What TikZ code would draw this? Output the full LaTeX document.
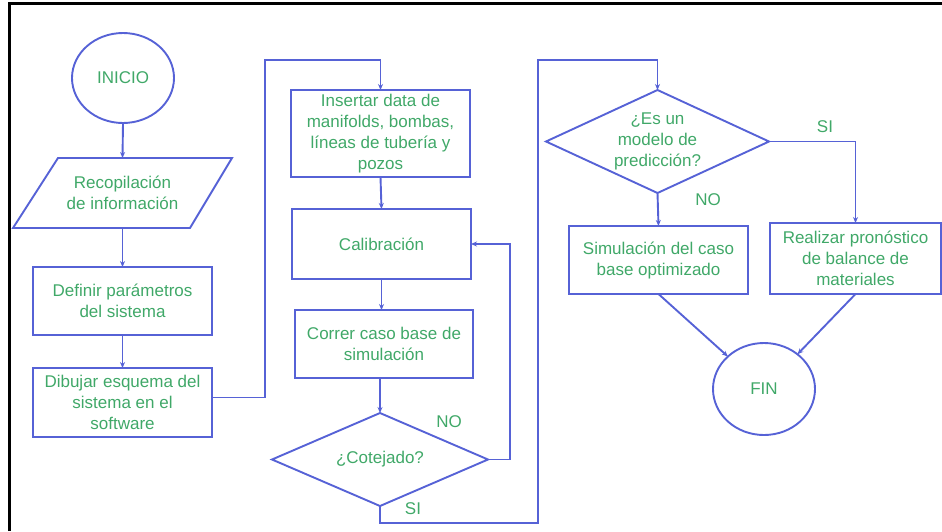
\documentclass[tikz,border=0pt]{standalone}
\usepackage{fontspec}
\setmainfont{Liberation Sans}
\usetikzlibrary{shapes.geometric,arrows.meta,calc}
\definecolor{lblue}{RGB}{86,98,214}
\definecolor{tgreen}{RGB}{64,168,104}
\begin{document}
\begin{tikzpicture}[x=1pt,y=-1pt,
  every node/.style={font=\fontsize{17}{21}\selectfont, text=tgreen, align=center, inner sep=0pt, outer sep=0pt},
  box/.style={draw=lblue, line width=1.9pt, rectangle},
  oval/.style={draw=lblue, line width=1.9pt, ellipse},
  conn/.style={draw=lblue, line width=1.9pt},
  arr/.style={conn, -{Stealth[length=6pt,width=5pt]}}]
\useasboundingbox (0,0) rectangle (942,531);
\draw[black, line width=2.5pt] (9.5,531) -- (9.5,3.5) -- (942,3.5);

% left column
\node[oval, minimum width=102pt, minimum height=90pt] (ini) at (123,78) {INICIO};
\node[minimum width=219pt, minimum height=70pt] (rec) at (122.5,193) {Recopilación\\de información};
\draw[conn] (rec.south west) -- ([xshift=45pt]rec.north west) -- (rec.north east) -- ([xshift=-42pt]rec.south east) -- cycle;
\node[box, minimum width=179pt, minimum height=68pt] (def) at (122.5,301) {Definir parámetros\\del sistema};
\node[box, minimum width=179pt, minimum height=69pt] (dib) at (122.5,402.5) {Dibujar esquema del\\sistema en el\\software};

% middle column
\node[box, minimum width=179pt, minimum height=87pt] (ins) at (380.5,133.5) {\raisebox{-5pt}{\begin{tabular}{@{}c@{}}Insertar data de\\manifolds, bombas,\\líneas de tubería y\\pozos\end{tabular}}};
\node[box, minimum width=179pt, minimum height=70pt] (cal) at (381.5,244) {Calibración};
\node[box, minimum width=178pt, minimum height=68pt] (cor) at (384,344) {Correr caso base de\\simulación};
\node[minimum width=216pt, minimum height=93pt] (cot) at (380,459.5) {¿Cotejado?};
\draw[conn] (cot.north) -- (cot.east) -- (cot.south) -- (cot.west) -- cycle;

% right column
\node[minimum width=223pt, minimum height=103pt] (pred) at (657.5,141.5) {¿Es un\\modelo de\\predicción?};
\draw[conn] (pred.north) -- (pred.east) -- (pred.south) -- (pred.west) -- cycle;
\node[box, minimum width=179pt, minimum height=68pt] (sim) at (658.5,260) {Simulación del caso\\base optimizado};
\node[box, minimum width=171pt, minimum height=71pt] (rea) at (855.5,258.5) {Realizar pronóstico\\de balance de\\materiales};
\node[oval, minimum width=102pt, minimum height=92pt] (fin) at (764,389) {FIN};

% labels
\node (no1) at (449,422) {NO};
\node (si1) at (413,509) {SI};
\node (si2) at (825,127) {SI};
\node (no2) at (708,200) {NO};

% connectors
\coordinate (k1) at (265,60);
\coordinate (k3) at (538,523);
\coordinate (k4) at (538,60);
\draw[arr] (ini.south) -- (rec.north);
\draw[arr] (rec.south) -- (def.north);
\draw[arr] (def.south) -- (dib.north);
\draw[arr] ([yshift=5pt]dib.east) -| (k1) -| (ins.north);
\draw[arr] (ins.south) -- (cal.north);
\draw[arr] (cal.south) -- (cal.south |- cor.north);
\draw[arr] (cot.north |- cor.south) -- (cot.north);
\draw[arr] (cot.east) -| ($(cal.east)+(39,0)$) -- (cal.east);
\draw[arr] (cot.south) |- (k3) -- (k4) -| (pred.north);
\draw[arr] (pred.east) -| (rea.north);
\draw[arr] (pred.south) -- (sim.north);
\draw[arr] (sim.south) -- (fin);
\draw[arr] (rea.south) -- (fin);
\end{tikzpicture}
\end{document}
